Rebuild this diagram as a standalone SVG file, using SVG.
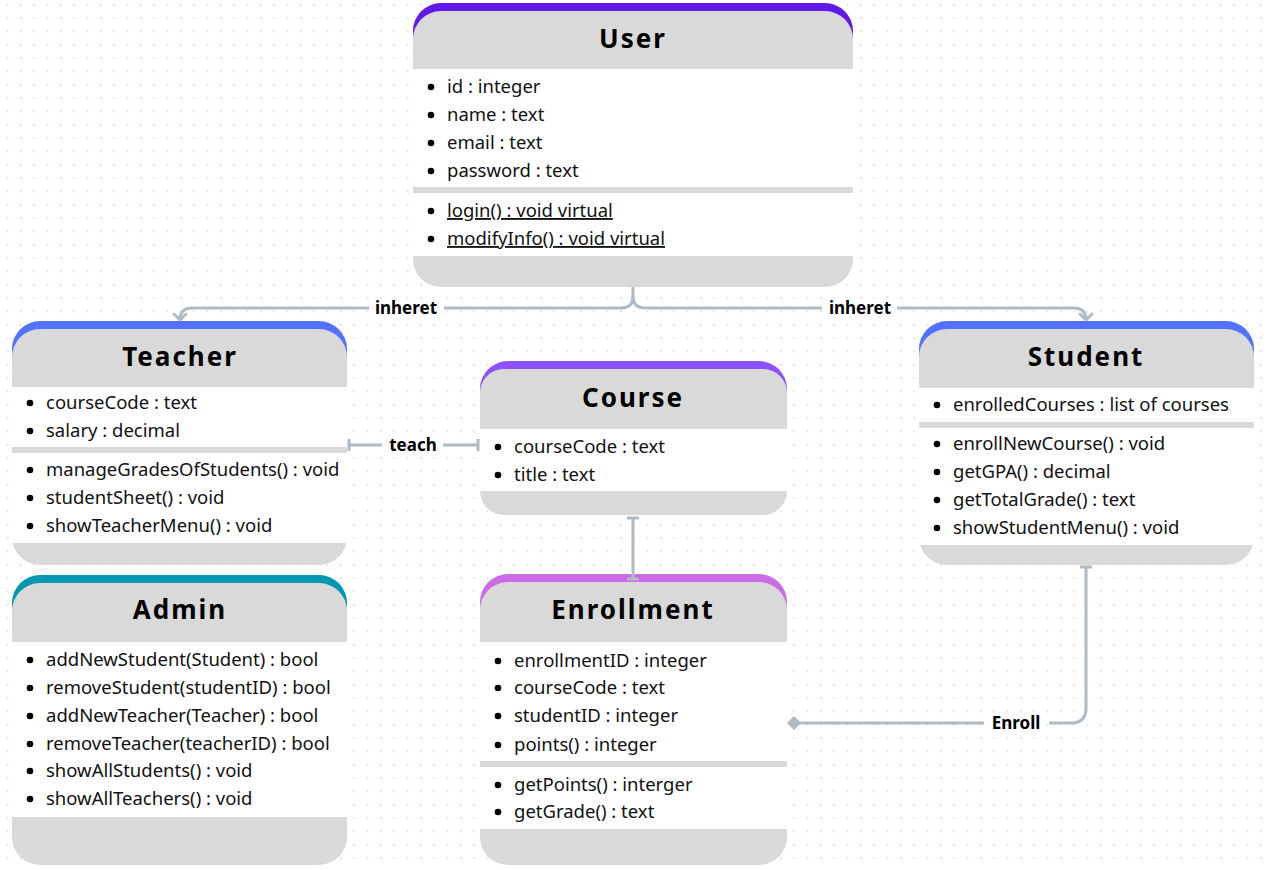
<svg xmlns="http://www.w3.org/2000/svg" width="1266" height="870" viewBox="0 0 1266 870">
<defs>
<pattern id="dots" x="6.67" y="4" width="13.333" height="13.333" patternUnits="userSpaceOnUse">
<circle cx="0.7" cy="0.7" r="1" fill="#d4d4d4"/>
</pattern>
<marker id="arr" viewBox="-8 -8 10 16" markerWidth="10" markerHeight="16" refX="0" refY="0" orient="auto" markerUnits="userSpaceOnUse">
<path d="M-6,-6 L0,0 L-6,6" fill="none" stroke="#b0bac3" stroke-width="3" stroke-linecap="round" stroke-linejoin="round"/>
</marker>
</defs>
<style>
.hdr{fill:#d9d9d9}
.body{fill:#ffffff}
.t{font-family:"Noto Sans","Open Sans",sans-serif;font-size:18.5px;fill:#111}
.u{text-decoration:underline}
.ttl{font-family:"Noto Sans","Open Sans",sans-serif;font-size:26px;font-weight:bold;letter-spacing:2px;fill:#000;text-anchor:middle}
.b{fill:#000}
.ln{fill:none;stroke:#b0bac3;stroke-width:3;stroke-linecap:butt}
.lbl{font-family:"Noto Sans","Open Sans",sans-serif;font-size:17px;font-weight:bold;fill:#000;text-anchor:middle}
</style>
<rect width="1266" height="870" fill="#ffffff"/>
<rect width="1266" height="870" fill="url(#dots)"/>

<g id="user">
<rect x="413" y="3" width="440" height="70" rx="28" fill="#6119e9"/>
<rect class="hdr" x="413" y="11" width="440" height="276" rx="28"/>
<rect class="body" x="413" y="69" width="440" height="118"/>
<rect class="body" x="413" y="193" width="440" height="63"/>
<text class="ttl" x="633" y="48">User</text>
<circle class="b" cx="431" cy="87" r="3.3"/><text class="t" x="447" y="93">id : integer</text>
<circle class="b" cx="431" cy="115" r="3.3"/><text class="t" x="447" y="121">name : text</text>
<circle class="b" cx="431" cy="143" r="3.3"/><text class="t" x="447" y="149">email : text</text>
<circle class="b" cx="431" cy="171" r="3.3"/><text class="t" x="447" y="177">password : text</text>
<circle class="b" cx="431" cy="211" r="3.3"/><text class="t u" x="447" y="217">login() : void virtual</text>
<circle class="b" cx="431" cy="239" r="3.3"/><text class="t u" x="447" y="245">modifyInfo() : void virtual</text>
</g>

<g id="teacher">
<rect x="12" y="321" width="335" height="70" rx="28" fill="#5271ff"/>
<rect class="hdr" x="12" y="329" width="335" height="236" rx="28"/>
<rect class="body" x="12" y="387" width="335" height="60"/>
<rect class="body" x="12" y="453" width="335" height="90"/>
<text class="ttl" x="180" y="366">Teacher</text>
<circle class="b" cx="30" cy="403" r="3.3"/><text class="t" x="46" y="409">courseCode : text</text>
<circle class="b" cx="30" cy="431" r="3.3"/><text class="t" x="46" y="437">salary : decimal</text>
<circle class="b" cx="30" cy="470" r="3.3"/><text class="t" x="46" y="476">manageGradesOfStudents() : void</text>
<circle class="b" cx="30" cy="498" r="3.3"/><text class="t" x="46" y="504">studentSheet() : void</text>
<circle class="b" cx="30" cy="526" r="3.3"/><text class="t" x="46" y="532">showTeacherMenu() : void</text>
</g>

<g id="course">
<rect x="480" y="361" width="307" height="70" rx="28" fill="#8c52ff"/>
<rect class="hdr" x="480" y="369" width="307" height="146" rx="24"/>
<rect class="body" x="480" y="429" width="307" height="62"/>
<text class="ttl" x="633" y="407">Course</text>
<circle class="b" cx="498" cy="447" r="3.3"/><text class="t" x="514" y="453">courseCode : text</text>
<circle class="b" cx="498" cy="475" r="3.3"/><text class="t" x="514" y="481">title : text</text>
</g>

<g id="student">
<rect x="919" y="321" width="335" height="70" rx="28" fill="#5271ff"/>
<rect class="hdr" x="919" y="329" width="335" height="236" rx="28"/>
<rect class="body" x="919" y="388" width="335" height="34"/>
<rect class="body" x="919" y="428" width="335" height="117"/>
<text class="ttl" x="1086" y="366">Student</text>
<circle class="b" cx="937" cy="405" r="3.3"/><text class="t" x="953" y="411">enrolledCourses : list of courses</text>
<circle class="b" cx="937" cy="444" r="3.3"/><text class="t" x="953" y="450">enrollNewCourse() : void</text>
<circle class="b" cx="937" cy="472" r="3.3"/><text class="t" x="953" y="478">getGPA() : decimal</text>
<circle class="b" cx="937" cy="500" r="3.3"/><text class="t" x="953" y="506">getTotalGrade() : text</text>
<circle class="b" cx="937" cy="528" r="3.3"/><text class="t" x="953" y="534">showStudentMenu() : void</text>
</g>

<g id="admin">
<rect x="12" y="575" width="335" height="70" rx="28" fill="#0097b2"/>
<rect class="hdr" x="12" y="583" width="335" height="282" rx="28"/>
<rect class="body" x="12" y="642" width="335" height="175"/>
<text class="ttl" x="180" y="619">Admin</text>
<circle class="b" cx="30" cy="660" r="3.3"/><text class="t" x="46" y="666">addNewStudent(Student) : bool</text>
<circle class="b" cx="30" cy="688" r="3.3"/><text class="t" x="46" y="694">removeStudent(studentID) : bool</text>
<circle class="b" cx="30" cy="716" r="3.3"/><text class="t" x="46" y="722">addNewTeacher(Teacher) : bool</text>
<circle class="b" cx="30" cy="744" r="3.3"/><text class="t" x="46" y="750">removeTeacher(teacherID) : bool</text>
<circle class="b" cx="30" cy="771" r="3.3"/><text class="t" x="46" y="777">showAllStudents() : void</text>
<circle class="b" cx="30" cy="799" r="3.3"/><text class="t" x="46" y="805">showAllTeachers() : void</text>
</g>

<g id="enrollment">
<rect x="480" y="574" width="307" height="70" rx="28" fill="#cb6ce6"/>
<rect class="hdr" x="480" y="582" width="307" height="283" rx="28"/>
<rect class="body" x="480" y="642" width="307" height="119"/>
<rect class="body" x="480" y="767" width="307" height="62"/>
<text class="ttl" x="633" y="619">Enrollment</text>
<circle class="b" cx="498" cy="661" r="3.3"/><text class="t" x="514" y="667">enrollmentID : integer</text>
<circle class="b" cx="498" cy="688" r="3.3"/><text class="t" x="514" y="694">courseCode : text</text>
<circle class="b" cx="498" cy="716" r="3.3"/><text class="t" x="514" y="722">studentID : integer</text>
<circle class="b" cx="498" cy="745" r="3.3"/><text class="t" x="514" y="751">points() : integer</text>
<circle class="b" cx="498" cy="785" r="3.3"/><text class="t" x="514" y="791">getPoints() : interger</text>
<circle class="b" cx="498" cy="812" r="3.3"/><text class="t" x="514" y="818">getGrade() : text</text>
</g>

<g id="connectors">
<path class="ln" d="M633,287 V296 Q633,308 621,308 H444"/>
<path class="ln" d="M369,308 H192 Q180,308 180,320" marker-end="url(#arr)"/>
<path class="ln" d="M633,296 Q633,308 645,308 H822"/>
<path class="ln" d="M897,308 H1074 Q1086,308 1086,320" marker-end="url(#arr)"/>
<text class="lbl" x="406" y="314">inheret</text>
<text class="lbl" x="860" y="314">inheret</text>
<path class="ln" d="M349,445 H382 M443,445 H478 M349,439 V451 M478,439 V451"/>
<text class="lbl" x="413" y="451">teach</text>
<path class="ln" d="M633,518 V579 M627,518 H639 M627,579 H639"/>
<path class="ln" d="M1086,567 V708 Q1086,723 1071,723 H1049 M984,723 H798 M1080,567 H1092"/>
<path d="M787,723 L794,716 L801,723 L794,730 Z" fill="#b0bac3"/>
<text class="lbl" x="1016" y="729">Enroll</text>
</g>
</svg>
